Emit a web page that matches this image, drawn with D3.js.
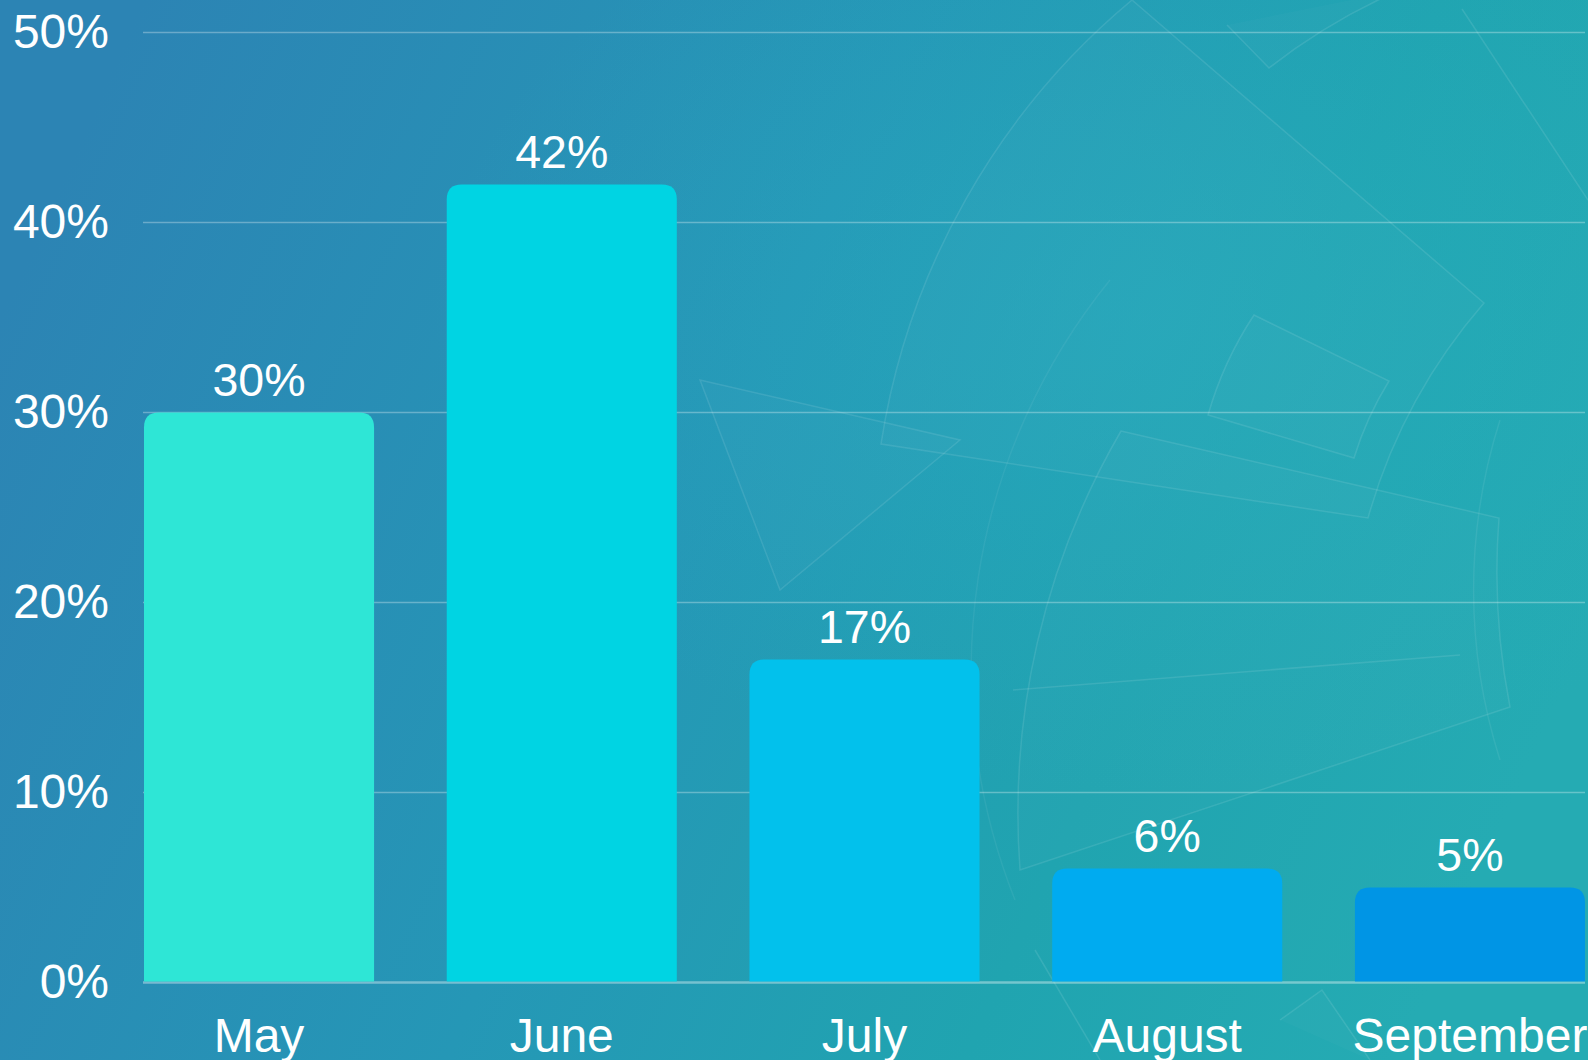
<!DOCTYPE html>
<html>
<head>
<meta charset="utf-8">
<script src="https://cdnjs.cloudflare.com/ajax/libs/d3/7.8.5/d3.min.js"></script>
<style>
  html, body { margin: 0; padding: 0; overflow: hidden; }
  body { width: 1588px; height: 1060px; }
  text { font-family: "Liberation Sans", Arial, sans-serif; fill: #ffffff; }
</style>
</head>
<body>
<div id="chart"></div>
<script>

// data
var months = ["May", "June", "July", "August", "September"];
var shares = [30, 42, 17, 6, 5];
var bar_colors = ["#2ee6d6", "#00d4e3", "#02c1ec", "#00abf0", "#0095e5"];
var y_ticks = [0, 10, 20, 30, 40, 50];

var width = 1588, height = 1060;
var margin = {top: 32.5, right: 3, bottom: 77.5, left: 144};

var svg = d3.select("#chart")
  .append("svg")
  .attr("width", width)
  .attr("height", height);

// background gradient
var defs = svg.append("defs");
var bg = defs.append("linearGradient")
  .attr("id", "bg_grad")
  .attr("x1", "0%").attr("y1", "30%")
  .attr("x2", "100%").attr("y2", "60%");
bg.append("stop").attr("offset", "0%").attr("stop-color", "#2c84b4");
bg.append("stop").attr("offset", "45%").attr("stop-color", "#2597b6");
bg.append("stop").attr("offset", "75%").attr("stop-color", "#20a4b0");
bg.append("stop").attr("offset", "100%").attr("stop-color", "#25abb3");

var glow = defs.append("radialGradient")
  .attr("id", "glow_grad")
  .attr("cx", "72%").attr("cy", "30%").attr("r", "45%");
glow.append("stop").attr("offset", "0%").attr("stop-color", "#2ab0c4").attr("stop-opacity", 0.4);
glow.append("stop").attr("offset", "100%").attr("stop-color", "#2ab0c4").attr("stop-opacity", 0);

svg.append("rect").attr("width", width).attr("height", height).attr("fill", "url(#bg_grad)");
svg.append("rect").attr("width", width).attr("height", height).attr("fill", "url(#glow_grad)");

// faint decorative outlines in the background
var deco = [
  "M1132,0 L1484,303 A560,560 0 0 0 1368,518 L881,444 A720,720 0 0 1 1132,0 Z",
  "M1254,315 L1389,381 A330,330 0 0 0 1354,458 L1208,415 A360,360 0 0 1 1254,315 Z",
  "M1121,431 L1499,518 A700,700 0 0 0 1510,707 L1020,870 A760,760 0 0 1 1121,431 Z",
  "M1227,25 L1269,68 A600,600 0 0 1 1400,-10",
  "M1462,9 L1588,200",
  "M1013,690 L1460,655",
  "M700,380 L960,440 L780,590 Z",
  "M1035,950 L1100,1060",
  "M1280,1020 L1322,990 L1370,1060"
];
svg.append("g")
  .selectAll("path")
  .data(deco)
  .enter()
  .append("path")
    .attr("d", d => d)
    .attr("fill", "rgba(255,255,255,0.02)")
    .attr("stroke", "rgba(255,255,255,0.1)")
    .attr("stroke-width", 1.5);

svg.append("path")
  .attr("d", "M1015,900 A620,620 0 0 1 1110,280")
  .attr("fill", "none")
  .attr("stroke", "rgba(255,255,255,0.06)")
  .attr("stroke-width", 1.5);
svg.append("path")
  .attr("d", "M1500,760 A560,560 0 0 1 1500,420")
  .attr("fill", "none")
  .attr("stroke", "rgba(255,255,255,0.07)")
  .attr("stroke-width", 1.5);

// scales
var x = d3.scaleBand()
  .domain(months)
  .range([margin.left, width - margin.right])
  .paddingInner(0.24)
  .paddingOuter(0);

var y = d3.scaleLinear()
  .domain([0, 50])
  .range([height - margin.bottom, margin.top]);

// gridlines
svg.append("g")
  .selectAll("line")
  .data(y_ticks)
  .enter()
  .append("line")
    .attr("x1", margin.left - 1)
    .attr("x2", width - margin.right)
    .attr("y1", d => y(d))
    .attr("y2", d => y(d))
    .attr("stroke", d => d == 0 ? "rgba(255,255,255,0.38)" : "rgba(255,255,255,0.3)")
    .attr("stroke-width", d => d == 0 ? 2.5 : 1.5);

// y tick labels
svg.append("g")
  .selectAll("text")
  .data(y_ticks)
  .enter()
  .append("text")
    .attr("x", 109)
    .attr("y", d => y(d))
    .attr("dy", "0.33em")
    .attr("text-anchor", "end")
    .style("font-size", "48px")
    .text(d => d + "%");

// bars with rounded top corners
var rad = 15;
function barPath(m, v) {
  var x0 = x(m), x1 = x(m) + x.bandwidth();
  var y0 = y(0) - 1, y1 = y(v);
  return "M" + x0 + "," + y0 +
    "L" + x0 + "," + (y1 + rad) +
    "Q" + x0 + "," + y1 + " " + (x0 + rad) + "," + y1 +
    "L" + (x1 - rad) + "," + y1 +
    "Q" + x1 + "," + y1 + " " + x1 + "," + (y1 + rad) +
    "L" + x1 + "," + y0 + "Z";
}

svg.append("g")
  .selectAll("path")
  .data(months)
  .enter()
  .append("path")
    .attr("d", (m, i) => barPath(m, shares[i]))
    .attr("fill", (m, i) => bar_colors[i]);

// value labels
svg.append("g")
  .selectAll("text")
  .data(months)
  .enter()
  .append("text")
    .attr("x", m => x(m) + x.bandwidth() / 2)
    .attr("y", (m, i) => y(shares[i]) - 17)
    .attr("text-anchor", "middle")
    .style("font-size", "46.5px")
    .text((m, i) => shares[i] + "%");

// category labels
svg.append("g")
  .selectAll("text")
  .data(months)
  .enter()
  .append("text")
    .attr("x", m => x(m) + x.bandwidth() / 2)
    .attr("y", 1052)
    .attr("text-anchor", "middle")
    .style("font-size", "48px")
    .text(m => m);

</script>
</body>
</html>
